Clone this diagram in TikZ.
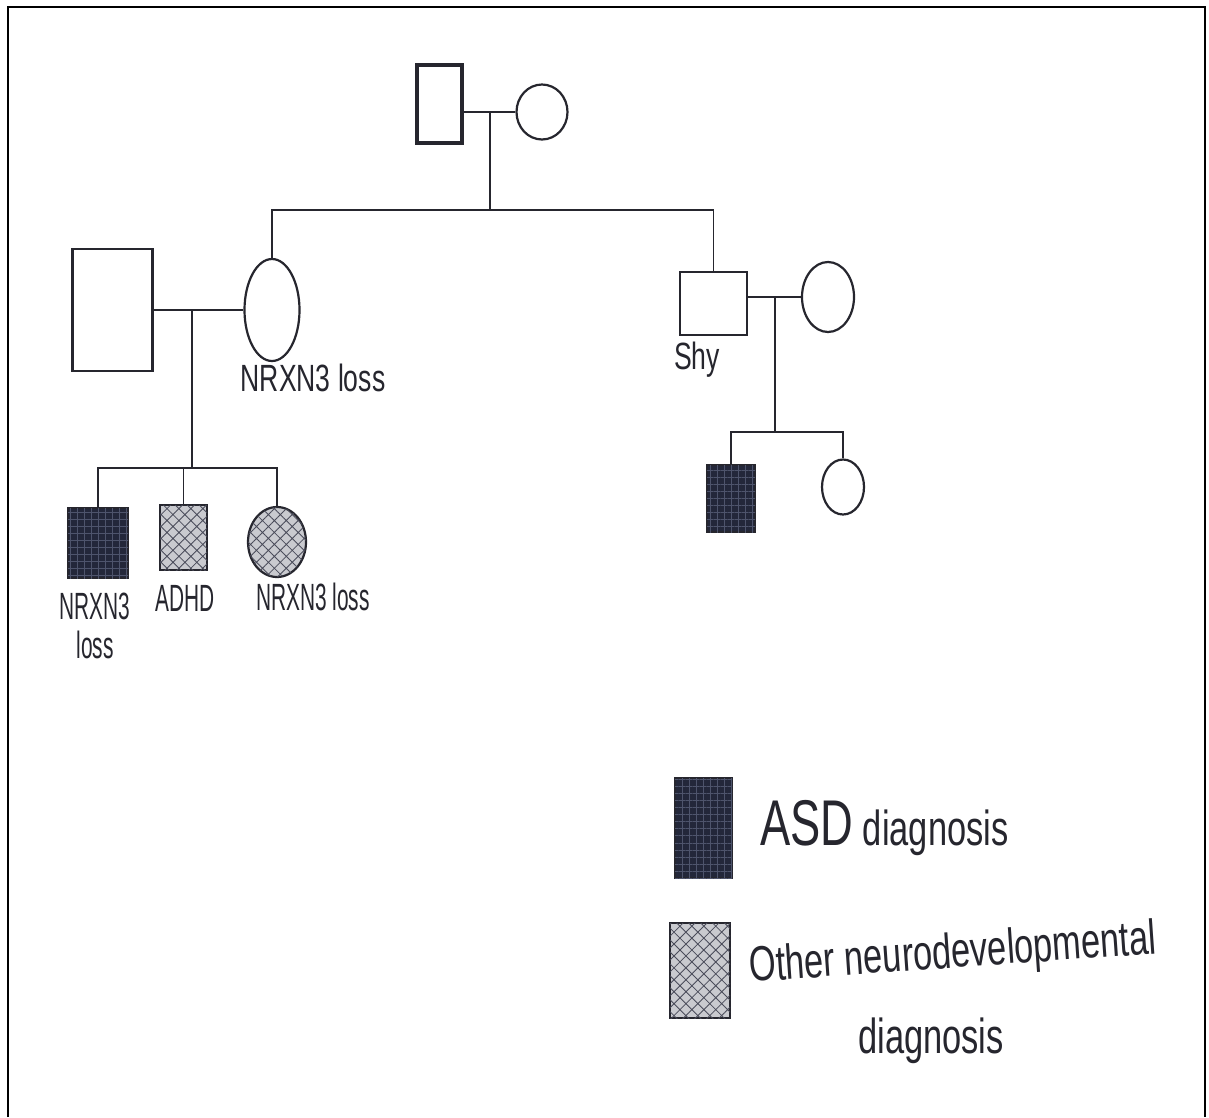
\documentclass[tikz,border=0pt]{standalone}
\usepackage{fontspec}
\usepackage{tikz}
\usetikzlibrary{shapes.geometric,patterns.meta,calc}
\newfontfamily\handfont[FakeStretch=0.7]{Liberation Sans}
\newfontfamily\handnarrow[FakeStretch=0.55]{Liberation Sans}
\definecolor{pdink}{HTML}{26262E}
\definecolor{pdasd}{HTML}{23273A}
\definecolor{pdgrid}{HTML}{4E546C}
\definecolor{pdgray}{HTML}{C9CACF}
\definecolor{pdhatch}{HTML}{4A4C5A}
\tikzset{
  male/.style={rectangle, draw=pdink, line width=0.65mm, inner sep=0pt},
  female/.style={ellipse, draw=pdink, line width=0.55mm, inner sep=0pt},
  asd/.style={fill=pdasd, postaction={pattern color=pdgrid,
              pattern={Hatch[angle=0,distance=5pt,line width=0.5pt]}}},
  other/.style={fill=pdgray, postaction={pattern color=pdhatch,
                pattern={Hatch[angle=45,distance=6pt,line width=0.6pt]}}},
  rel/.style={draw=pdink, line width=0.45mm},
  lbl/.style={text=pdink, inner sep=0pt, font=\handfont\fontsize{27pt}{28pt}\selectfont},
  lbln/.style={text=pdink, inner sep=0pt, align=center,
               font=\handnarrow\fontsize{27pt}{28pt}\selectfont},
  legtext/.style={text=pdink, inner sep=0pt, font=\handfont\fontsize{35pt}{36pt}\selectfont},
}
\begin{document}
\begin{tikzpicture}[x=0.25mm,y=-0.25mm]
\useasboundingbox[fill=white] (0,0) rectangle (1209,1117);
% frame
\draw[line width=0.55mm] (8,1117) -- (8,7) -- (1205,7) -- (1205,1117);

% generation I
\node[male,line width=1mm,minimum width=11.25mm,minimum height=19.5mm] (gpm) at (439.5,104) {};
\node[female,minimum width=12.75mm,minimum height=13.75mm] (gpf) at (542,112) {};

% generation II
\node[male,minimum width=20mm,minimum height=30.5mm] (mfa) at (112.5,310) {};
\node[female,minimum width=13.75mm,minimum height=25.5mm] (mmo) at (272,310) {};
\node[male,minimum width=16.75mm,minimum height=15.75mm] (uncle) at (713.5,303.5) {};
\node[female,minimum width=13mm,minimum height=17.5mm] (aunt) at (828,297) {};

% generation III
\node[male,asd,minimum width=15mm,minimum height=17.5mm] (c1) at (98,543) {};
\node[male,other,minimum width=11.75mm,minimum height=16.25mm] (c2) at (183.5,537.5) {};
\node[female,other,minimum width=14.5mm,minimum height=17.5mm] (c3) at (277,542) {};
\node[male,asd,minimum width=12mm,minimum height=16.75mm] (k1) at (731,498.5) {};
\node[female,minimum width=10.5mm,minimum height=13.75mm] (k2) at (843,487) {};

% labels
\node[lbl] (mmoL) at (313,378) {NRXN3 loss};
\node[lbl] (uncleL) at (697,360) {Shy};
\node[lbln] (c1L) at (95,626) {NRXN3\\loss};
\node[lbln] (c2L) at (185,598) {ADHD};
\node[lbln] (c3L) at (313,597) {NRXN3 loss};

% grandparents -> sibship
\draw[rel] (gpm.east |- gpf.west) -- (gpf.west);
\coordinate (gpM) at (490,112);
\coordinate (gpD) at (490,210);
\draw[rel] (gpM) -- (gpD);
\draw[rel] (mmo.north) |- (gpD) -| (uncle.north);

% left couple -> children
\draw[rel] (mfa.east) -- (mmo.west);
\coordinate (lfM) at (192,310);
\coordinate (lfD) at (192,468);
\draw[rel] (lfM) -- (lfD);
\draw[rel] (c1.north) |- (lfD) -| (c3.north);
\draw[rel] (c2.north) -- (c2.north |- lfD);

% right couple -> children
\draw[rel] (uncle.east |- aunt.west) -- (aunt.west);
\coordinate (rtM) at (775,297);
\coordinate (rtD) at (775,432);
\draw[rel] (rtM) -- (rtD);
\draw[rel] (k1.north) |- (rtD) -| (k2.north);

% legend
\node[male,asd,minimum width=14.25mm,minimum height=25mm] (legA) at (703.5,828) {};
\node[male,other,minimum width=15mm,minimum height=23.75mm] (legO) at (700,970.5) {};
\node[legtext,anchor=base west] (legAL) at (760,845)
   {{\fontsize{46pt}{46pt}\selectfont ASD} diagnosis};
\node[legtext,anchor=base west,rotate=4] (legOL) at (750,982) {Other neurodevelopmental};
\node[legtext,anchor=base west] (legOL2) at (858,1053) {diagnosis};
\end{tikzpicture}
\end{document}
